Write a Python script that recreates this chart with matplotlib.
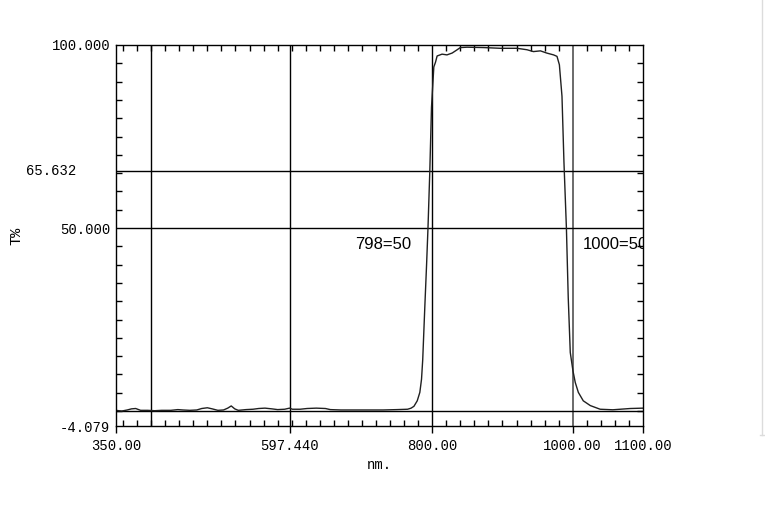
import matplotlib.pyplot as plt
from matplotlib.lines import Line2D
from matplotlib.ticker import FixedLocator

# transmission curve
wavelength = [350, 358, 366, 372, 378, 385, 395, 405, 415, 428, 438, 445, 455, 465,
              472, 480, 487, 495, 503, 509, 514, 519, 524, 535, 545, 553, 562, 572,
              580, 590, 597, 601, 612, 622, 635, 648, 655, 670, 690, 710, 730, 750,
              765, 770, 774, 778.7, 782.4, 784.8, 786.5, 789.5, 792, 794, 796.6,
              799, 802.3, 804.7, 807, 814, 821, 828.4, 835.5, 840, 849.7, 873, 897,
              920.7, 935, 944, 954, 963, 972.7, 977.6, 981, 984.7, 987.5, 991,
              993.6, 996.5, 1000.3, 1003.6, 1008, 1015, 1025, 1039, 1057, 1082, 1100]
transmit = [0.2, 0.0, 0.3, 0.6, 0.7, 0.2, 0.2, 0.1, 0.2, 0.2, 0.4, 0.3, 0.2, 0.3,
            0.7, 0.9, 0.6, 0.2, 0.3, 0.8, 1.4, 0.6, 0.2, 0.4, 0.5, 0.7, 0.8, 0.6,
            0.4, 0.5, 0.8, 0.5, 0.5, 0.7, 0.8, 0.7, 0.4, 0.3, 0.3, 0.3, 0.3, 0.4,
            0.5, 0.8, 1.3, 2.8, 5.1, 8.7, 14.0, 28.5, 40.0, 50.0, 65.6,
            83.0, 94.0, 95.3, 97.0, 97.5, 97.3, 97.8, 98.7, 99.3, 99.4, 99.3, 99.1,
            99.1, 98.7, 98.2, 98.4, 97.8, 97.3, 96.9, 94.6, 86.0, 68.0, 50.0,
            31.0, 16.0, 11.0, 7.8, 5.1, 2.8, 1.5, 0.5, 0.35, 0.7, 0.8]

x_ticks = [350, 597.44, 800, 1000, 1100]
x_tick_labels = ['350.00', '597.440', '800.00', '1000.00', '1100.00']
y_ticks = [100, 50, -4.079]
y_tick_labels = ['100.000', '50.000', '-4.079']
v_lines = [400, 597.44, 800, 1000]
h_lines = [65.632, 50, 0]
cursor_y = 65.632
notes = [(690, 45.5, '798=50'), (1014, 45.5, '1000=50')]

mono = 'Liberation Mono'

fig = plt.figure(figsize=(7.65, 5.19), dpi=100)
ax = fig.add_axes([116 / 765, 1 - 426 / 519, 527 / 765, 381 / 519])

ax.set_xlim(350, 1100)
ax.set_ylim(-4.079, 100)

# grid lines
for xv in v_lines:
    c = '#6a6a6a' if xv == 1000 else 'black'
    ax.axvline(xv, color=c, lw=1.4 if xv == 1000 else 1.0, zorder=1)
for yv in h_lines:
    ax.axhline(yv, color='black', lw=1.0, zorder=1)

ax.plot(wavelength, transmit, color='#202020', lw=1.0, zorder=2)

# ticks
ax.set_xticks(x_ticks)
ax.set_xticklabels(x_tick_labels, fontfamily=mono, fontsize=10)
ax.set_yticks(y_ticks)
ax.set_yticklabels(y_tick_labels, fontfamily=mono, fontsize=10)
ax.xaxis.set_minor_locator(FixedLocator(list(range(360, 1100, 20))))
ax.yaxis.set_minor_locator(FixedLocator(list(range(0, 100, 5))))
ax.tick_params(axis='x', which='major', direction='out', length=5, width=1, pad=4)
ax.tick_params(axis='y', which='major', direction='out', length=0, width=1, pad=4)
ax.tick_params(axis='both', which='minor', direction='in', length=4, width=1,
               top=True, right=True, bottom=True, left=True)
for sp in ax.spines.values():
    sp.set_linewidth(1.0)

# cursor value on the left
ax.text(-0.075, cursor_y, '65.632', transform=ax.get_yaxis_transform(),
        ha='right', va='center', fontfamily=mono, fontsize=10)

for nx, ny, txt in notes:
    ax.text(nx, ny, txt, ha='left', va='center', fontfamily='Liberation Sans',
            fontsize=12, clip_on=True)

ax.set_xlabel('nm.', fontfamily=mono, fontsize=10, labelpad=4)
ax.set_ylabel('T%', fontfamily=mono, fontsize=11)
ax.yaxis.set_label_coords(-0.175, 0.5)

# faint window edge on the right
fig.add_artist(Line2D([762 / 765, 762 / 765], [1, 1 - 435 / 519],
                      transform=fig.transFigure, color='#dcdcdc', lw=1))
fig.add_artist(Line2D([760 / 765, 1], [1 - 435 / 519, 1 - 435 / 519],
                      transform=fig.transFigure, color='#dcdcdc', lw=1))

fig.savefig('out.png', dpi=100)
